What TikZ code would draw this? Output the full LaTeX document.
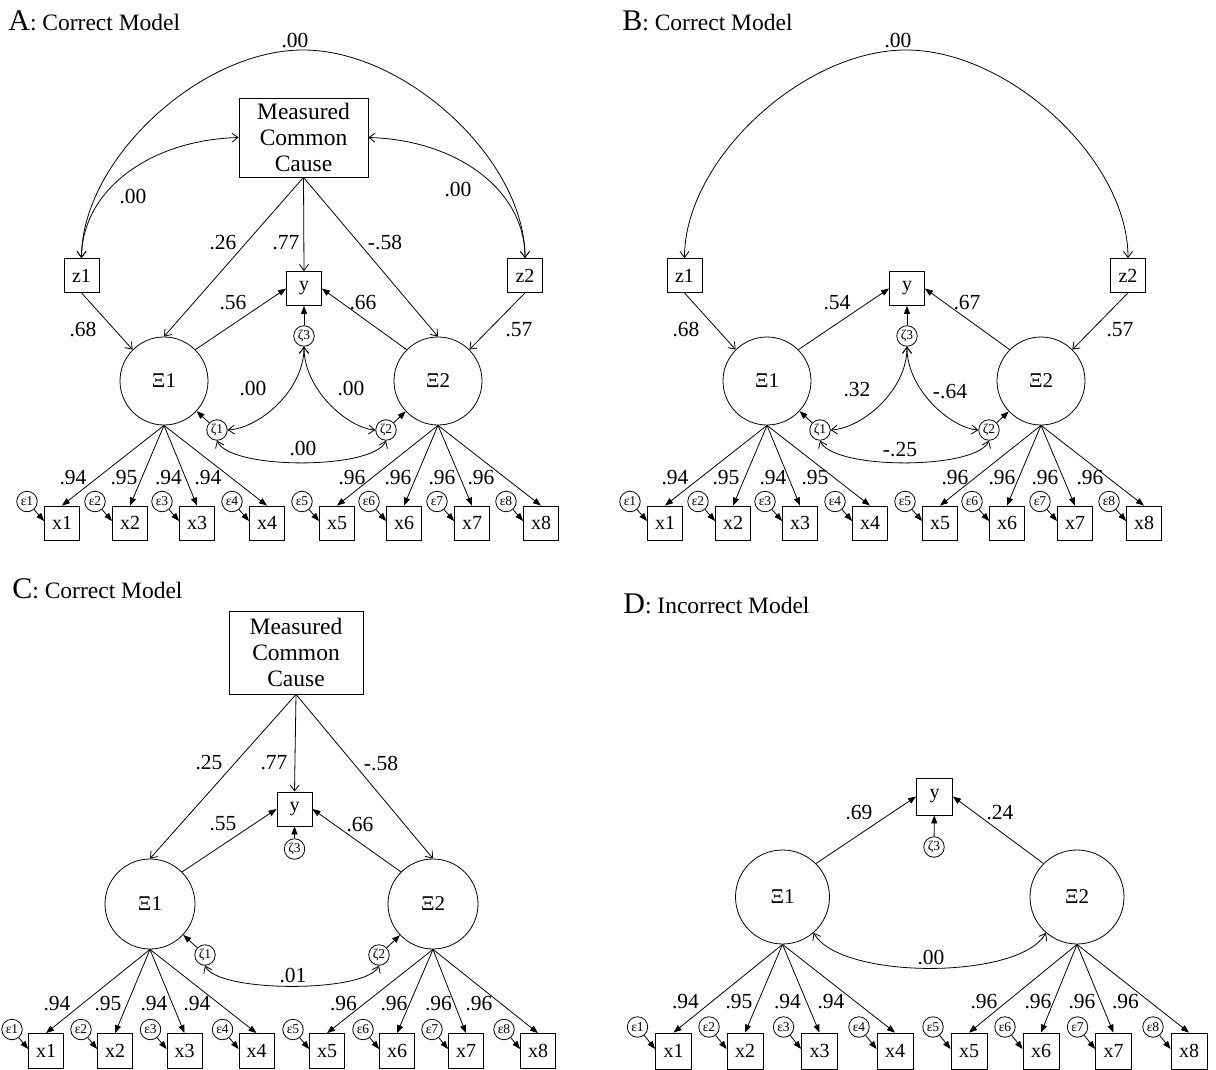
\documentclass[tikz,border=0pt]{standalone}
\usepackage{fontspec}
\setmainfont{Liberation Serif}
\usetikzlibrary{arrows.meta}
\begin{document}
\begin{tikzpicture}[x=1pt,y=-1pt,
  line width=0.8pt,
  every node/.style={inner sep=0pt},
  lab/.style={font=\fontsize{21.5}{24}\selectfont},
  obs/.style={draw, rectangle, minimum width=35pt, minimum height=34pt, font=\fontsize{20}{22}\selectfont},
  causebox/.style={draw, rectangle, minimum width=129pt, minimum height=79pt, align=center, font=\fontsize{23.5}{26}\selectfont},
  lat/.style={draw, circle, minimum size=88pt, font=\fontsize{21}{24}\selectfont},
  err/.style={draw, circle, minimum size=20.5pt, font=\fontsize{13.5}{14}\selectfont},
  paneltitle/.style={anchor=base west, font=\fontsize{23.5}{26}\selectfont},
  big/.style={font=\fontsize{30}{32}\selectfont},
  reg/.style={-{Straight Barb[length=6pt,width=9pt]}},
  ld/.style={-{Triangle[length=8pt,width=6pt]}},
  cv/.style={{Straight Barb[length=6pt,width=9pt]}-{Straight Barb[length=6pt,width=9pt]}}
]
\useasboundingbox (0,0) rectangle (1216,1070);

% ---------------- Panel A ----------------
\node[paneltitle] (A-title) at (8,31) {{\fontsize{30}{32}\selectfont A}: Correct Model};
\node[causebox] (A-mcc) at (303.5,137.5) {Measured\\Common\\Cause};
\node[obs] (A-z1) at (81.5,275.5) {z1};
\node[obs] (A-z2) at (525,275.5) {z2};
\node[obs] (A-y) at (304,288.5) {y};
\node[err] (A-k3) at (304,336) {ζ3};
\node[lat] (A-X1) at (164,381) {Ξ1};
\node[lat] (A-X2) at (438,381) {Ξ2};
\node[err] (A-k1) at (217,430) {ζ1};
\node[err] (A-k2) at (386,430) {ζ2};

\draw[reg] (A-mcc.south) -- (A-X1.north);
\draw[reg] (A-mcc.south) -- (A-y.north);
\draw[reg] (A-mcc.south) -- (A-X2.north);
\draw[reg] (A-z1.south) -- (A-X1.north west);
\draw[reg] (A-z2.south) -- (A-X2.north east);
\draw[ld] (A-X1.north east) -- (A-y.west);
\draw[ld] (A-X2.north west) -- (A-y.east);
\draw[ld] (A-k3) -- (A-y);
\draw[ld] (A-k1) -- (A-X1);
\draw[ld] (A-k2) -- (A-X2);
\draw[cv] (A-z1.north) .. controls (81.5,160) and (200,50) .. (303,50)
          .. controls (406,50) and (525,160) .. (A-z2.north);
\draw[cv] (A-mcc.west) .. controls (150,140) and (82,190) .. (A-z1.north);
\draw[cv] (A-mcc.east) .. controls (457,140) and (525,190) .. (A-z2.north);
\draw[cv] (A-k3.south) .. controls (304,390) and (260,428) .. (A-k1.east);
\draw[cv] (A-k3.south) .. controls (304,390) and (348,428) .. (A-k2.west);
\draw[cv] (A-k1.south) .. controls (230,470) and (373,470) .. (A-k2.south);

\foreach \i/\xx in {1/62,2/130,3/197,4/267}{
  \node[obs] (A-x\i) at (\xx,523) {x\i};
  \node[err] (A-e\i) at (\xx-35,501.5) {ε\i};
  \draw[ld] (A-e\i) -- ([yshift=2pt]A-x\i.west);
  \draw[ld] (A-X1.south) -- (A-x\i.north);
}
\foreach \i/\xx in {5/337,6/404,7/472,8/541}{
  \node[obs] (A-x\i) at (\xx,523) {x\i};
  \node[err] (A-e\i) at (\xx-35,501.5) {ε\i};
  \draw[ld] (A-e\i) -- ([yshift=2pt]A-x\i.west);
  \draw[ld] (A-X2.south) -- (A-x\i.north);
}

\node[lab] (A-l1) at (295,41) {.00};
\node[lab] (A-l2) at (133,197) {.00};
\node[lab] (A-l3) at (458,190) {.00};
\node[lab] (A-l4) at (223,243) {.26};
\node[lab] (A-l5) at (286,243) {.77};
\node[lab] (A-l6) at (385,243) {-.58};
\node[lab] (A-l7) at (233,303) {.56};
\node[lab] (A-l8) at (363,303) {.66};
\node[lab] (A-l9) at (83,330) {.68};
\node[lab] (A-l10) at (519,330) {.57};
\node[lab] (A-l11) at (253,389) {.00};
\node[lab] (A-l12) at (351,389) {.00};
\node[lab] (A-l13) at (303,449) {.00};
\node[lab] (A-m1) at (73,478) {.94};
\node[lab] (A-m2) at (124,478) {.95};
\node[lab] (A-m3) at (168.5,478) {.94};
\node[lab] (A-m4) at (208,478) {.94};
\node[lab] (A-m5) at (352,478) {.96};
\node[lab] (A-m6) at (398,478) {.96};
\node[lab] (A-m7) at (442,478) {.96};
\node[lab] (A-m8) at (481,478) {.96};

% ---------------- Panel B ----------------
\begin{scope}[xshift=603pt]
\node[paneltitle] (B-title) at (19,31) {{\fontsize{30}{32}\selectfont B}: Correct Model};
\node[obs] (B-z1) at (81.5,275.5) {z1};
\node[obs] (B-z2) at (525,275.5) {z2};
\node[obs] (B-y) at (304,288.5) {y};
\node[err] (B-k3) at (304,336) {ζ3};
\node[lat] (B-X1) at (164,381) {Ξ1};
\node[lat] (B-X2) at (438,381) {Ξ2};
\node[err] (B-k1) at (217,430) {ζ1};
\node[err] (B-k2) at (386,430) {ζ2};

\draw[reg] (B-z1.south) -- (B-X1.north west);
\draw[reg] (B-z2.south) -- (B-X2.north east);
\draw[ld] (B-X1.north east) -- (B-y.west);
\draw[ld] (B-X2.north west) -- (B-y.east);
\draw[ld] (B-k3) -- (B-y);
\draw[ld] (B-k1) -- (B-X1);
\draw[ld] (B-k2) -- (B-X2);
\draw[cv] (B-z1.north) .. controls (81.5,160) and (200,50) .. (303,50)
          .. controls (406,50) and (525,160) .. (B-z2.north);
\draw[cv] (B-k3.south) .. controls (304,390) and (260,428) .. (B-k1.east);
\draw[cv] (B-k3.south) .. controls (304,390) and (348,428) .. (B-k2.west);
\draw[cv] (B-k1.south) .. controls (230,470) and (373,470) .. (B-k2.south);

\foreach \i/\xx in {1/62,2/130,3/197,4/267}{
  \node[obs] (B-x\i) at (\xx,523) {x\i};
  \node[err] (B-e\i) at (\xx-35,501.5) {ε\i};
  \draw[ld] (B-e\i) -- ([yshift=2pt]B-x\i.west);
  \draw[ld] (B-X1.south) -- (B-x\i.north);
}
\foreach \i/\xx in {5/337,6/404,7/472,8/541}{
  \node[obs] (B-x\i) at (\xx,523) {x\i};
  \node[err] (B-e\i) at (\xx-35,501.5) {ε\i};
  \draw[ld] (B-e\i) -- ([yshift=2pt]B-x\i.west);
  \draw[ld] (B-X2.south) -- (B-x\i.north);
}

\node[lab] (B-l1) at (295,41) {.00};
\node[lab] (B-l7) at (234,303) {.54};
\node[lab] (B-l8) at (364,303) {.67};
\node[lab] (B-l9) at (83,330) {.68};
\node[lab] (B-l10) at (517,330) {.57};
\node[lab] (B-l11) at (254,390) {.32};
\node[lab] (B-l12) at (347,392) {-.64};
\node[lab] (B-l13) at (297,450) {-.25};
\node[lab] (B-m1) at (72,478) {.94};
\node[lab] (B-m2) at (123,478) {.95};
\node[lab] (B-m3) at (170,478) {.94};
\node[lab] (B-m4) at (212,478) {.95};
\node[lab] (B-m5) at (352,478) {.96};
\node[lab] (B-m6) at (399,478) {.96};
\node[lab] (B-m7) at (442,478) {.96};
\node[lab] (B-m8) at (487,478) {.96};
\end{scope}

% ---------------- Panel C ----------------
\node[paneltitle] (C-title) at (12,598) {{\fontsize{30}{32}\selectfont C}: Correct Model};
\node[causebox, minimum width=134pt, minimum height=83pt] (C-mcc) at (296,652.5) {Measured\\Common\\Cause};
\node[obs] (C-y) at (294.5,809) {y};
\node[err] (C-k3) at (294.5,849) {ζ3};
\node[lat, minimum size=90pt] (C-X1) at (150,904) {Ξ1};
\node[lat, minimum size=90pt] (C-X2) at (433,904) {Ξ2};
\node[err] (C-k1) at (205,955) {ζ1};
\node[err] (C-k2) at (379,955) {ζ2};

\draw[reg] (C-mcc.south) -- (C-X1.north);
\draw[reg] (C-mcc.south) -- (C-y.north);
\draw[reg] (C-mcc.south) -- (C-X2.north);
\draw[ld] (C-X1.north east) -- (C-y.west);
\draw[ld] (C-X2.north west) -- (C-y.east);
\draw[ld] (C-k3) -- (C-y);
\draw[ld] (C-k1) -- (C-X1);
\draw[ld] (C-k2) -- (C-X2);
\draw[cv] (C-k1.south) .. controls (218,993) and (366,993) .. (C-k2.south);

\foreach \i/\xx in {1/46,2/115,3/184.5,4/256.5}{
  \node[obs, minimum height=35pt] (C-x\i) at (\xx,1051) {x\i};
  \node[err] (C-e\i) at (\xx-34,1029.5) {ε\i};
  \draw[ld] (C-e\i) -- ([yshift=2pt]C-x\i.west);
  \draw[ld] (C-X1.south) -- (C-x\i.north);
}
\foreach \i/\xx in {5/327,6/397,7/466,8/538}{
  \node[obs, minimum height=35pt] (C-x\i) at (\xx,1051) {x\i};
  \node[err] (C-e\i) at (\xx-34,1029.5) {ε\i};
  \draw[ld] (C-e\i) -- ([yshift=2pt]C-x\i.west);
  \draw[ld] (C-X2.south) -- (C-x\i.north);
}

\node[lab] (C-l4) at (209,763) {.25};
\node[lab] (C-l5) at (274,763) {.77};
\node[lab] (C-l6) at (381,763) {-.58};
\node[lab] (C-l7) at (223,824) {.55};
\node[lab] (C-l8) at (360,825) {.66};
\node[lab] (C-l13) at (293,975) {.01};
\node[lab] (C-m1) at (57,1004) {.94};
\node[lab] (C-m2) at (108,1004) {.95};
\node[lab] (C-m3) at (154,1004) {.94};
\node[lab] (C-m4) at (197,1004) {.94};
\node[lab] (C-m5) at (343.5,1004) {.96};
\node[lab] (C-m6) at (394,1004) {.96};
\node[lab] (C-m7) at (438.5,1004) {.96};
\node[lab] (C-m8) at (479,1004) {.96};

% ---------------- Panel D ----------------
\node[paneltitle] (D-title) at (623,613) {{\fontsize{30}{32}\selectfont D}: Incorrect Model};
\node[obs, minimum width=36pt, minimum height=37pt] (D-y) at (934.5,796.5) {y};
\node[err] (D-k3) at (934,847) {ζ3};
\node[lat, minimum size=94pt] (D-X1) at (782.5,897) {Ξ1};
\node[lat, minimum size=94pt] (D-X2) at (1077,897) {Ξ2};

\draw[ld] (D-X1.north east) -- (D-y.west);
\draw[ld] (D-X2.north west) -- (D-y.east);
\draw[ld] (D-k3) -- (D-y);
\draw[cv] (D-X1.-49) .. controls (840,980) and (1020,980) .. (D-X2.-131);

\foreach \i/\xx in {1/673.5,2/745,3/819.5,4/895}{
  \node[obs, minimum width=36pt, minimum height=36pt] (D-x\i) at (\xx,1051) {x\i};
  \node[err] (D-e\i) at (\xx-36,1027) {ε\i};
  \draw[ld] (D-e\i) -- ([yshift=2pt]D-x\i.west);
  \draw[ld] (D-X1.south) -- (D-x\i.north);
}
\foreach \i/\xx in {5/969,6/1041,7/1113.5,8/1189}{
  \node[obs, minimum width=36pt, minimum height=36pt] (D-x\i) at (\xx,1051) {x\i};
  \node[err] (D-e\i) at (\xx-36,1027) {ε\i};
  \draw[ld] (D-e\i) -- ([yshift=2pt]D-x\i.west);
  \draw[ld] (D-X2.south) -- (D-x\i.north);
}

\node[lab] (D-l7) at (859,813) {.69};
\node[lab] (D-l8) at (1000,813) {.24};
\node[lab] (D-l13) at (931,957) {.00};
\node[lab] (D-m1) at (685.5,1002) {.94};
\node[lab] (D-m2) at (739,1002) {.95};
\node[lab] (D-m3) at (787.5,1002) {.94};
\node[lab] (D-m4) at (831,1002) {.94};
\node[lab] (D-m5) at (984,1002) {.96};
\node[lab] (D-m6) at (1038,1002) {.96};
\node[lab] (D-m7) at (1082,1002) {.96};
\node[lab] (D-m8) at (1125.5,1002) {.96};
\end{tikzpicture}
\end{document}
